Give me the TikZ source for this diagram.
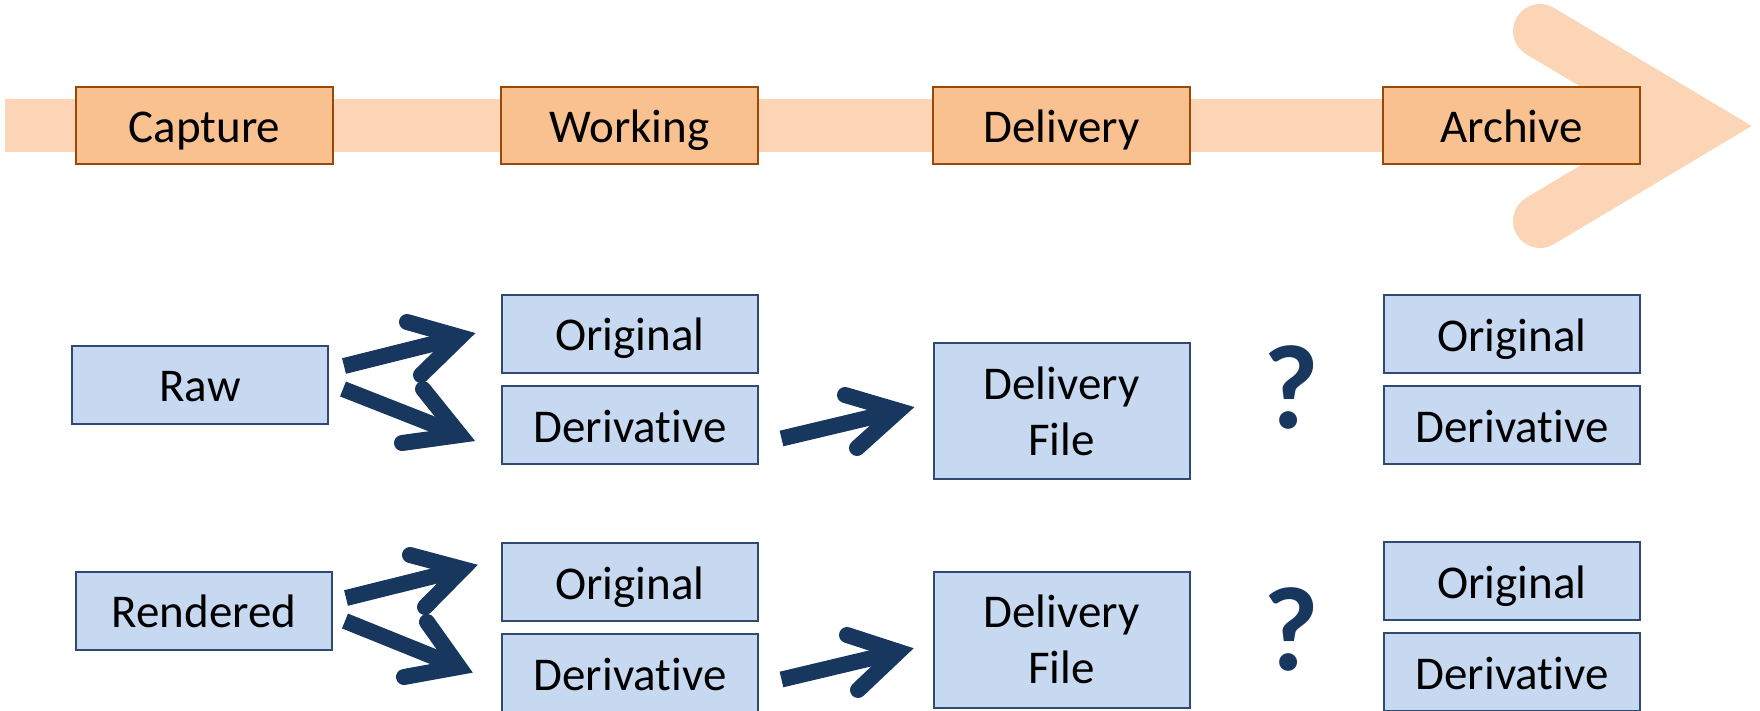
\documentclass[tikz,border=0pt]{standalone}
\usepackage{fontspec}
\setmainfont[Ligatures=NoCommon]{Carlito}
\definecolor{bandc}{HTML}{FBD5B5}
\definecolor{phasefill}{HTML}{F9C090}
\definecolor{phaseline}{HTML}{984807}
\definecolor{itemfill}{HTML}{C6D9F0}
\definecolor{itemline}{HTML}{2F4B73}
\definecolor{navy}{HTML}{17375E}
\tikzset{
  phase/.style={draw=phaseline, fill=phasefill, line width=2pt, inner sep=0pt,
    minimum width=257pt, minimum height=77pt, text height=40pt, text depth=6pt,
    font=\fontsize{47}{56}\selectfont},
  item/.style={draw=itemline, fill=itemfill, line width=2pt, inner sep=0pt,
    minimum width=256pt, minimum height=78pt, text height=40pt, text depth=6pt,
    font=\fontsize{47}{56}\selectfont},
  dfile/.style={draw=itemline, fill=itemfill, line width=2pt, inner sep=0pt,
    minimum width=256pt, minimum height=136pt, align=center,
    font=\fontsize{47}{56}\selectfont},
  qmark/.style={text=navy, inner sep=0pt, anchor=base,
    font=\fontsize{120}{140}\selectfont\bfseries},
  shaft/.style={draw=navy, line width=16pt, line cap=butt},
  barb/.style={draw=navy, line width=16pt, line cap=round, line join=miter},
  chev/.style={draw=bandc, line width=54pt, line cap=round, line join=miter}
}
\begin{document}
\begin{tikzpicture}[x=1pt, y=-1pt]
\useasboundingbox (0,0) rectangle (1760,710);
% timeline band and arrowhead
\coordinate (bandL) at (5,125.5);
\coordinate (bandR) at (1700,125.5);
\draw[bandc, line width=53pt] (bandL) -- (bandR);
\coordinate (chevU) at (1540,31);
\coordinate (chevV) at (1699,126);
\coordinate (chevL) at (1540,221);
\draw[chev] (chevU) -- (chevV) -- (chevL);
% phases
\node[phase] (capture) at (204.5,125.5) {Capture};
\node[phase] (working) at (629.5,125.5) {Working};
\node[phase] (delivery) at (1061.5,125.5) {Delivery};
\node[phase] (archive) at (1511.5,125.5) {Archive};
% row 1
\node[item] (raw) at (200,384.5) {Raw};
\node[item] (orig1) at (630,333.5) {Original};
\node[item] (deriv1) at (630,425) {Derivative};
\node[dfile] (df1) at (1061.5,411) {Delivery\\File};
\node[item] (aorig1) at (1512,334) {Original};
\node[item] (aderiv1) at (1512,425) {Derivative};
\node[qmark] (q1) at (1291,428) {?};
% row 2
\node[item] (rendered) at (204,610.5) {Rendered};
\node[item] (orig2) at (630,582) {Original};
\node[item] (deriv2) at (630,673) {Derivative};
\node[dfile] (df2) at (1061.5,639.5) {Delivery\\File};
\node[item] (aorig2) at (1512,581) {Original};
\node[item] (aderiv2) at (1512,672) {Derivative};
\node[qmark] (q2) at (1291,670) {?};
% arrows row 1
\coordinate (a1s) at (344,366); \coordinate (a1v) at (460,337);
\coordinate (a1u) at (407,322); \coordinate (a1l) at (421,375);
\draw[shaft] (a1s) -- (a1v);
\draw[barb] (a1u) -- (a1v) -- (a1l);
\coordinate (a2s) at (343,389); \coordinate (a2v) at (460,435);
\coordinate (a2u) at (423,389); \coordinate (a2l) at (402,443);
\draw[shaft] (a2s) -- (a2v);
\draw[barb] (a2u) -- (a2v) -- (a2l);
\coordinate (a3s) at (781.5,438.5); \coordinate (a3v) at (898.4,410.7);
\coordinate (a3u) at (845,395); \coordinate (a3l) at (857,448);
\draw[shaft] (a3s) -- (a3v);
\draw[barb] (a3u) -- (a3v) -- (a3l);
% arrows row 2
\coordinate (a4s) at (346,598); \coordinate (a4v) at (462.5,569);
\coordinate (a4u) at (410,555); \coordinate (a4l) at (425,607);
\draw[shaft] (a4s) -- (a4v);
\draw[barb] (a4u) -- (a4v) -- (a4l);
\coordinate (a5s) at (345,621); \coordinate (a5v) at (459,667);
\coordinate (a5u) at (427,622); \coordinate (a5l) at (404,677);
\draw[shaft] (a5s) -- (a5v);
\draw[barb] (a5u) -- (a5v) -- (a5l);
\coordinate (a6s) at (781.5,679.5); \coordinate (a6v) at (898.4,651.7);
\coordinate (a6u) at (847,635); \coordinate (a6l) at (858,690);
\draw[shaft] (a6s) -- (a6v);
\draw[barb] (a6u) -- (a6v) -- (a6l);
\end{tikzpicture}
\end{document}
